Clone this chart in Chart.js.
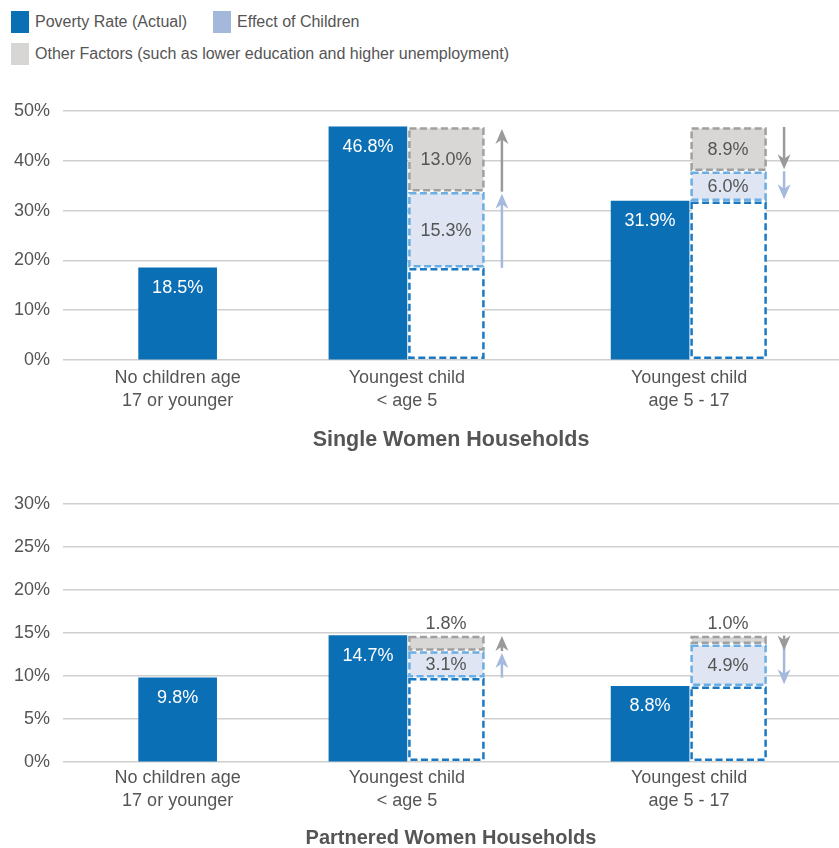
<!DOCTYPE html>
<html>
<head>
<meta charset="utf-8">
<title>Poverty rates of women-headed households</title>
<script src="https://cdn.jsdelivr.net/npm/chart.js@4.4.1/dist/chart.umd.min.js"></script>
<style>
  body { margin: 0; background: #fff; font-family: "Liberation Sans", Arial, sans-serif; color: #555; }
  #page { position: relative; width: 839px; height: 848px; overflow: hidden; }
  #legend { position: absolute; left: 11px; top: 11px; width: 820px; display: flex; flex-wrap: wrap; row-gap: 10px; }
  .item { display: flex; align-items: center; height: 22px; margin-right: 26px; font-size: 16px; white-space: nowrap; }
  .swatch { width: 18px; height: 22px; margin-right: 6px; }
  #singleWrap { position: absolute; left: 0; top: 80px; }
  #partneredWrap { position: absolute; left: 0; top: 460px; }
</style>
</head>
<body>
<div id="page">
  <div id="legend"></div>
  <div id="singleWrap"><canvas id="singleChart" width="839" height="380"></canvas></div>
  <div id="partneredWrap"><canvas id="partneredChart" width="839" height="388"></canvas></div>
</div>
<script>
// categories on the x axis (two lines each)
var categories = [
    ['No children age', '17 or younger'],
    ['Youngest child', '< age 5'],
    ['Youngest child', 'age 5 - 17']
];
var seriesNames = [
    'Poverty Rate (Actual)',
    'Effect of Children',
    'Other Factors (such as lower education and higher unemployment)'
];

// Single women households (%)
var singleActual = [18.5, 46.8, 31.9];
var singleBase = [null, 18.5, 31.9];
var singleChildren = [null, 15.3, 6.0];
var singleOther = [null, 13.0, 8.9];
var singleTicks = [0, 10, 20, 30, 40, 50];

// Partnered women households (%)
var partneredActual = [9.8, 14.7, 8.8];
var partneredBase = [null, 9.8, 8.8];
var partneredChildren = [null, 3.1, 4.9];
var partneredOther = [null, 1.8, 1.0];
var partneredTicks = [0, 5, 10, 15, 20, 25, 30];

// colours
var BLUE = '#0b6fb5';
var TEXT = '#555555';
var GRID = '#cfcfcf';
var BASE_LINE = '#1a79c4';
var CHILD_KEY = '#a3b8db', CHILD_FILL = '#dfe5f2', CHILD_LINE = '#6aaee3', CHILD_ARROW = '#a5b9dc';
var OTHER_KEY = '#d8d6d5', OTHER_FILL = '#d9d7d6', OTHER_LINE = '#a0a0a0', OTHER_ARROW = '#9a9a9a';
var FONT = '"Liberation Sans", Arial, sans-serif';

// the x axis is split into narrow slots so the groups can sit unevenly
var SLOTS = 44;
var slotOf = [6, 19, 35];

function spread(values) {
    var out = [];
    for (var i = 0; i < SLOTS; i++) out.push(null);
    values.forEach(function (v, i) { out[slotOf[i]] = v; });
    return out;
}

function slotLabels() {
    var out = [];
    for (var i = 0; i < SLOTS; i++) out.push('');
    categories.forEach(function (c, i) { out[slotOf[i]] = c; });
    return out;
}

// legend
var legend = document.getElementById('legend');
[BLUE, CHILD_KEY, OTHER_KEY].forEach(function (color, i) {
    var item = document.createElement('div');
    item.className = 'item';
    var sw = document.createElement('span');
    sw.className = 'swatch';
    sw.style.background = color;
    item.appendChild(sw);
    item.appendChild(document.createTextNode(seriesNames[i]));
    legend.appendChild(item);
});

function pct(v) { return v.toFixed(1) + '%'; }

function drawArrow(ctx, x, from, to, color) {
    var dir = to > from ? 1 : -1;
    var head = 15, half = 6.5;
    var tip = to - dir * 2;
    if (Math.abs(tip - from) < head) tip = from + dir * head;
    ctx.setLineDash([]);
    ctx.strokeStyle = color;
    ctx.fillStyle = color;
    ctx.lineWidth = 2.5;
    ctx.beginPath();
    ctx.moveTo(x, from);
    ctx.lineTo(x, tip - dir * head * 0.6);
    ctx.stroke();
    ctx.beginPath();
    ctx.moveTo(x, tip);
    ctx.lineTo(x - half, tip - dir * head);
    ctx.lineTo(x, tip - dir * head * 0.7);
    ctx.lineTo(x + half, tip - dir * head);
    ctx.closePath();
    ctx.fill();
}

// dashed decomposition boxes, arrows and value labels
var splitBars = {
    id: 'splitBars',
    afterDatasetsDraw: function (chart) {
        var ctx = chart.ctx;
        var sets = chart.data.datasets;
        ctx.save();

        sets.forEach(function (ds, di) {
            if (!ds.dashLine) return;
            chart.getDatasetMeta(di).data.forEach(function (bar, i) {
                if (ds.data[i] == null) return;
                var p = bar.getProps(['x', 'y', 'base', 'width'], true);
                var left = p.x - p.width / 2 + 2.5;
                var right = p.x + p.width / 2 - 1.5;
                var top = p.y + 1.5;
                var bottom = p.base - 1.5;
                ctx.fillStyle = ds.dashFill;
                ctx.fillRect(left, top, right - left, bottom - top);
                ctx.setLineDash([7, 3.5]);
                ctx.lineWidth = 2.5;
                ctx.strokeStyle = ds.dashLine;
                ctx.strokeRect(left, top, right - left, bottom - top);
            });
        });

        ctx.font = '18px ' + FONT;
        ctx.textAlign = 'center';
        ctx.textBaseline = 'middle';

        // actual bars: white value near the top
        chart.getDatasetMeta(0).data.forEach(function (bar, i) {
            var v = sets[0].data[i];
            if (v == null) return;
            ctx.fillStyle = '#ffffff';
            ctx.fillText(pct(v), bar.x, bar.y + 20);
        });

        // arrows and segment labels
        var actual = sets[0].data, base = sets[1].data;
        var topMeta = chart.getDatasetMeta(3);
        sets.forEach(function (ds, di) {
            if (!ds.arrow) return;
            chart.getDatasetMeta(di).data.forEach(function (bar, i) {
                var v = ds.data[i];
                if (v == null) return;
                var p = bar.getProps(['x', 'y', 'base', 'width'], true);
                var up = Math.abs(actual[i] - base[i]) > 0.05;
                var ax = p.x + p.width / 2 + 17;
                if (up) drawArrow(ctx, ax, p.base, p.y, ds.arrow);
                else drawArrow(ctx, ax, p.y, p.base, ds.arrow);

                ctx.fillStyle = TEXT;
                if (p.base - p.y >= 20) {
                    ctx.fillText(pct(v), p.x, (p.y + p.base) / 2 + 1);
                } else {
                    ctx.fillText(pct(v), p.x, topMeta.data[i].y - 12);
                }
            });
        });
        ctx.restore();
    }
};

function buildChart(id, title, actual, base, children, other, ticks, layout) {
    var canvas = document.getElementById(id);
    var ctx = canvas.getContext('2d');
    return new Chart(ctx, {
        type: 'bar',
        data: {
            labels: slotLabels(),
            datasets: [
                { label: seriesNames[0], data: spread(actual), stack: 'actual', backgroundColor: BLUE },
                { label: 'Base', data: spread(base), stack: 'split', backgroundColor: 'rgba(0,0,0,0)',
                  dashFill: '#ffffff', dashLine: BASE_LINE },
                { label: seriesNames[1], data: spread(children), stack: 'split', backgroundColor: 'rgba(0,0,0,0)',
                  dashFill: CHILD_FILL, dashLine: CHILD_LINE, arrow: CHILD_ARROW },
                { label: seriesNames[2], data: spread(other), stack: 'split', backgroundColor: 'rgba(0,0,0,0)',
                  dashFill: OTHER_FILL, dashLine: OTHER_LINE, arrow: OTHER_ARROW }
            ]
        },
        options: {
            responsive: false,
            animation: false,
            barThickness: 78,
            skipNull: true,
            layout: { padding: { top: layout.top, left: 0, right: 0, bottom: 0 } },
            plugins: {
                legend: { display: false },
                tooltip: { enabled: false }
            },
            scales: {
                x: {
                    grid: { display: false, drawTicks: false },
                    border: { display: false },
                    ticks: {
                        autoSkip: false,
                        maxRotation: 0,
                        padding: layout.tickPad,
                        color: TEXT,
                        font: { family: FONT, size: 18, lineHeight: 1.25 }
                    },
                    title: {
                        display: true,
                        text: title,
                        color: TEXT,
                        font: { family: FONT, size: layout.titleSize, weight: 'bold', lineHeight: 1 },
                        padding: { top: 0, bottom: layout.titlePad }
                    },
                    afterFit: function (scale) { scale.height = layout.axisHeight; }
                },
                y: {
                    stacked: true,
                    min: ticks[0],
                    max: ticks[ticks.length - 1],
                    border: { display: false },
                    grid: { color: GRID, lineWidth: 1.5, drawTicks: false },
                    afterBuildTicks: function (scale) {
                        scale.ticks = ticks.map(function (t) { return { value: t }; });
                    },
                    ticks: {
                        padding: 13,
                        color: TEXT,
                        font: { family: FONT, size: 18 },
                        callback: function (v) { return v + '%'; }
                    },
                    afterFit: function (scale) { scale.width = 63; }
                }
            }
        },
        plugins: [splitBars]
    });
}

buildChart('singleChart', 'Single Women Households',
    singleActual, singleBase, singleChildren, singleOther, singleTicks,
    { top: 31, axisHeight: 100, tickPad: 7, titlePad: 9, titleSize: 21.5 });

buildChart('partneredChart', 'Partnered Women Households',
    partneredActual, partneredBase, partneredChildren, partneredOther, partneredTicks,
    { top: 44, axisHeight: 86, tickPad: 5, titlePad: 0, titleSize: 20 });
</script>
</body>
</html>
